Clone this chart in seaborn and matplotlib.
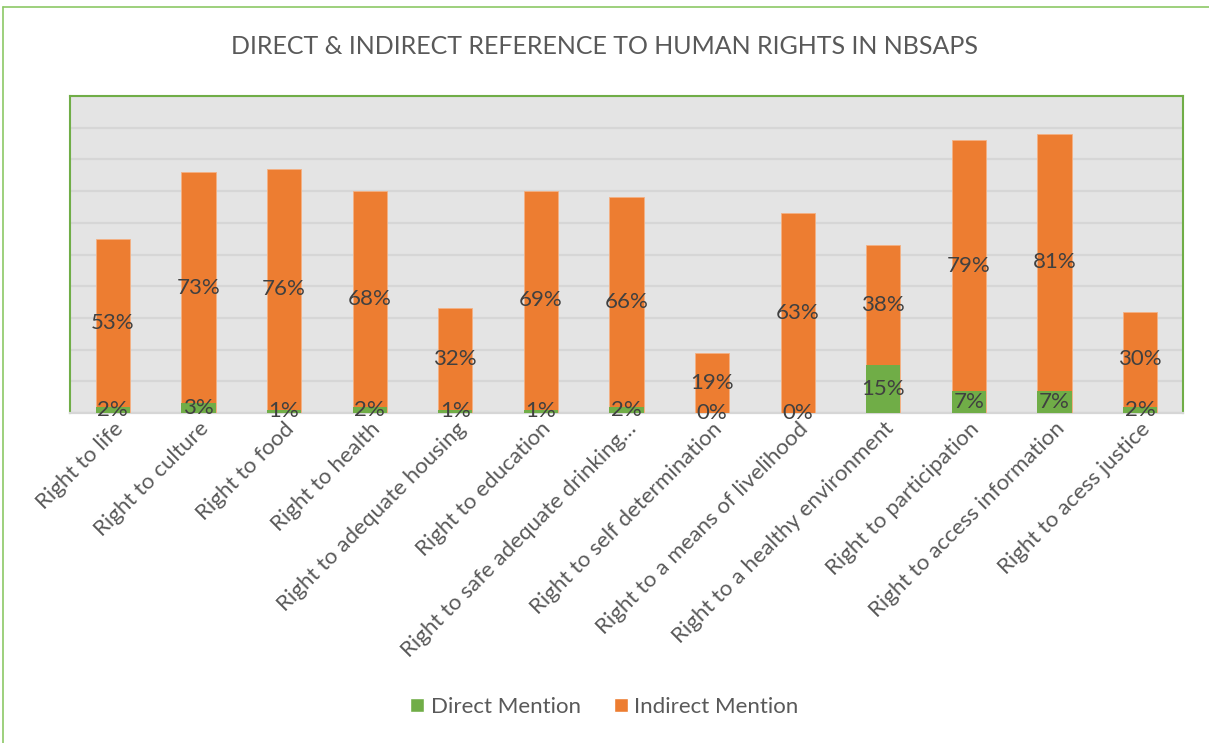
import matplotlib
matplotlib.use("Agg")
import matplotlib.pyplot as plt
import seaborn as sns
import pandas as pd
from matplotlib.patches import Patch
from matplotlib.lines import Line2D

categories = ["Right to life", "Right to culture", "Right to food", "Right to health",
              "Right to adequate housing", "Right to education",
              "Right to safe adequate drinking\u2026", "Right to self determination",
              "Right to a means of livelihood", "Right to a healthy environment",
              "Right to participation", "Right to access information",
              "Right to acess justice"]
direct = [2, 3, 1, 2, 1, 1, 2, 0, 0, 15, 7, 7, 2]
indirect = [53, 73, 76, 68, 32, 69, 66, 19, 63, 38, 79, 81, 30]

GREEN = "#70AD47"
ORANGE = "#ED7D31"
sns.set_theme(style="white")
plt.rcParams["font.family"] = ["Lato", "DejaVu Sans"]

df = pd.DataFrame({"cat": categories, "direct": direct, "indirect": indirect})
df["total"] = df["direct"] + df["indirect"]

fig = plt.figure(figsize=(12.09, 7.43), dpi=100)
ax = fig.add_axes([70/1209, 1-413/743, (1183-70)/1209, (413-96)/743])
ax.set_facecolor("#E4E4E4")

sns.barplot(data=df, x="cat", y="total", color=ORANGE, width=0.4, ax=ax,
            saturation=1, edgecolor="#F4B183", linewidth=0.6, zorder=3)
sns.barplot(data=df, x="cat", y="direct", color=GREEN, width=0.4, ax=ax,
            saturation=1, linewidth=0, zorder=4)

ax.set_ylim(0, 100)
ax.set_xlim(-0.5, len(categories) - 0.5)
ax.set_yticks(range(0, 101, 10))
ax.set_yticklabels([])
ax.tick_params(axis="y", length=0)
ax.tick_params(axis="x", length=0, pad=4)
ax.yaxis.grid(True, color="#D6D6D6", linewidth=1.6, zorder=0)
ax.set_axisbelow(True)
ax.set_xlabel("")
ax.set_ylabel("")
for s in ["left", "top", "right"]:
    ax.spines[s].set_color(GREEN)
    ax.spines[s].set_linewidth(1.5)
ax.spines["bottom"].set_color("#D6D6D6")
ax.spines["bottom"].set_linewidth(1.6)

ax.set_xticks(range(len(categories)))
ax.set_xticklabels(categories, rotation=45, ha="right", rotation_mode="anchor",
                   fontsize=16, color="#595959")

for i, (d, ind) in enumerate(zip(direct, indirect)):
    ax.text(i, d + ind / 2, f"{ind}%", ha="center", va="center", fontsize=16,
            color="#404040", zorder=6)
    ax.text(i, d / 2, f"{d}%", ha="center", va="center", fontsize=16,
            color="#404040", zorder=6)

fig.text(0.5, 1 - 47/743, "DIRECT & INDIRECT REFERENCE TO HUMAN RIGHTS IN NBSAPS",
         ha="center", va="center", fontsize=18, color="#595959")

handles = [Patch(facecolor=GREEN, label="Direct Mention"),
           Patch(facecolor=ORANGE, label="Indirect Mention")]
fig.legend(handles=handles, loc="center", bbox_to_anchor=(0.5, 1 - 707/743), ncol=2,
           frameon=False, fontsize=16, handlelength=0.62, handleheight=0.62,
           handletextpad=0.3, columnspacing=1.5, labelcolor="#595959")

fig.add_artist(Line2D([3/1209, 3/1209], [0, 1 - 7/743], color="#8CC866", lw=1.2))
fig.add_artist(Line2D([3/1209, 1], [1 - 7/743, 1 - 7/743], color="#8CC866", lw=1.2))

fig.savefig("out.png", dpi=100, facecolor="white")
